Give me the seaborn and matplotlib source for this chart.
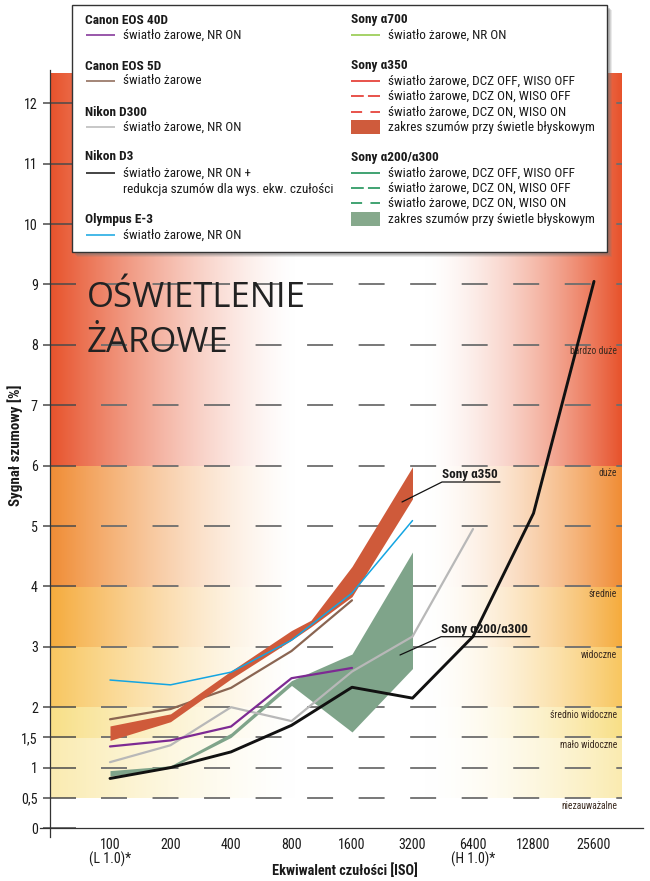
import numpy as np
import matplotlib
matplotlib.use("Agg")
import matplotlib.pyplot as plt
import seaborn as sns
from matplotlib import font_manager as fm
from matplotlib.patches import Rectangle
from matplotlib.ticker import NullLocator

# ---------------- data ----------------
iso_ticks = [100, 200, 400, 800, 1600, 3200, 6400, 12800, 25600]
iso_tick_labels = ["100\n(L 1.0)*", "200", "400", "800", "1600", "3200",
                   "6400\n(H 1.0)*", "12800", "25600"]
y_ticks = [0, 0.5, 1, 1.5, 2, 3, 4, 5, 6, 7, 8, 9, 10, 11, 12]
y_tick_labels = ["0", "0,5", "1", "1,5", "2", "3", "4", "5", "6", "7", "8",
                 "9", "10", "11", "12"]

iso_d3 = [100, 200, 400, 800, 1600, 3200, 6400, 12800, 25600]
nikon_d3 = [0.82, 1.00, 1.26, 1.70, 2.33, 2.15, 3.17, 5.21, 9.05]
iso_40d = [100, 200, 400, 800, 1600]
canon_40d = [1.35, 1.45, 1.68, 2.48, 2.65]
iso_5d = [100, 200, 400, 800, 1600]
canon_5d = [1.80, 1.97, 2.32, 2.93, 3.77]
iso_d300 = [100, 200, 400, 800, 1600, 3200, 6400]
nikon_d300 = [1.09, 1.37, 2.00, 1.77, 2.59, 3.17, 4.95]
iso_e3 = [100, 200, 400, 800, 1600, 3200]
olympus_e3 = [2.45, 2.37, 2.58, 3.11, 3.89, 5.09]
iso_a350 = [100, 200, 400, 800, 1000, 1600, 3200]
a350_hi = [1.69, 1.89, 2.60, 3.27, 3.44, 4.33, 5.98]
a350_lo = [1.45, 1.76, 2.47, 3.11, 3.33, 3.83, 5.45]
iso_a200 = [100, 200, 400, 800, 1600, 3200]
a200_hi = [0.95, 1.03, 1.57, 2.44, 2.88, 4.57]
a200_lo = [0.86, 0.99, 1.50, 2.36, 1.59, 2.64]

band_edges = [0.5, 1.5, 2, 3, 4, 6, 12.5]
band_colors = ["#faebb0", "#f8df86", "#f8c65f", "#f5ab3c", "#f08c34", "#e7522b"]
band_names = ["niezauważalne", "mało widoczne", "średnio widoczne", "widoczne",
              "średnie", "duże", "bardzo duże"]
band_label_y = [0.37, 1.37, 1.87, 2.87, 3.87, 5.87, 7.9]

# ---------------- fonts ----------------
sns.set_style("white")


def pick_condensed():
    pref = ["Liberation Sans Narrow", "Roboto Condensed", "Noto Sans",
            "Open Sans", "Liberation Sans", "DejaVu Sans"]
    found = set()
    for f in fm.fontManager.ttflist:
        st = f.stretch
        isc = ("condensed" in st) if isinstance(st, str) else (st < 500)
        if isc or "Narrow" in f.name or "Condensed" in f.name:
            found.add(f.name)
    for p in pref:
        if p in found:
            return p, "condensed"
    return "Roboto", "normal"


COND, STRETCH = pick_condensed()
names = {f.name for f in fm.fontManager.ttflist}
TITLE = "Open Sans" if "Open Sans" in names else "DejaVu Sans"
plt.rcParams["font.family"] = [COND, "DejaVu Sans"]
plt.rcParams["font.stretch"] = STRETCH
plt.rcParams["lines.scale_dashes"] = False
TXT = "#1a1a1a"

# ---------------- geometry helpers (pixel -> data) ----------------
W, H = 650, 881


def iso_at(px):
    return 100 * 2 ** ((px - 110) / 60.5)


def val_at(py):
    return (828 - py) / 60.4


def fx(px):
    return px / W


def fy(py):
    return 1 - py / H


fig = plt.figure(figsize=(6.5, 8.81), dpi=100)
renderer = fig.canvas.get_renderer()


def fit(s, target_px, base, weight="normal", cap=1.08):
    t = fig.text(0, 0, s, fontsize=base, fontweight=weight)
    w = t.get_window_extent(renderer).width
    t.remove()
    return min(base * cap, base * target_px / w)


FS_LEG = fit("zakres szumów przy świetle błyskowym", 206, 10)
FS_LEGB = fit("Canon EOS 40D", 83, 10, "bold")
FS_TICK = fit("12800", 34, 10, cap=1.2)
FS_BAND = fit("średnio widoczne", 66, 8)
FS_CALL = fit("Sony α200/α300", 87, 10.5, "bold")
FS_XLAB = fit("Ekwiwalent czułości [ISO]", 147, 10.5, "bold")
FS_YLAB = fit("Sygnał szumowy [%]", 122, 10.5, "bold")

rect = [fx(40), fy(838), (643 - 40) / W, (838 - 62) / H]

# background gradient bands
bg = fig.add_axes(rect, zorder=0)
bg.set_xlim(40, 643)
bg.set_ylim(val_at(838), val_at(62))
bg.axis("off")
xs = np.arange(50, 622) + 0.5
aL = np.clip(1 - (xs - 50) / 245.0, 0, 1) ** 1.4
aR = np.clip((xs - 425) / 197.0, 0, 1) ** 1.6
alpha = np.maximum(aL, aR)
vs = np.linspace(0.5, 12.5, 1201)[:-1] + 0.005
img = np.ones((len(vs), len(xs), 3))
for i, v in enumerate(vs):
    b = min(np.searchsorted(band_edges, v) - 1, len(band_colors) - 1)
    c = np.array(matplotlib.colors.to_rgb(band_colors[b]))
    img[i] = 1 - alpha[:, None] * (1 - c[None, :])
bg.imshow(img, extent=[50, 622, 0.5, 12.5], origin="lower", aspect="auto",
          interpolation="nearest")

# main axes
ax = fig.add_axes(rect, zorder=1)
ax.patch.set_alpha(0)
ax.set_xscale("log", base=2)
ax.set_xlim(iso_at(40), iso_at(643))
ax.set_ylim(val_at(838), val_at(62))
ax.grid(False)

# grid: solid tick segments + dashed lines
ax.hlines(y_ticks, iso_at(43), iso_at(76), color="#4a4a4a", lw=1.1, zorder=1.5)
ax.hlines(y_ticks[1:], iso_at(100.7), iso_at(622), color="#6d6d6d", lw=1.3,
          linestyles=[(0, (18.7, 18.4))], zorder=1.5)

# bands
ax.fill_between(iso_a200, a200_lo, a200_hi, color="#7fa48a", lw=0, zorder=2)
sns.lineplot(x=iso_5d, y=canon_5d, ax=ax, color="#8a6552", linewidth=1.6, zorder=2.5)
ax.fill_between(iso_a350, a350_lo, a350_hi, color="#cf5a3a", lw=0, zorder=3)

# lines
sns.lineplot(x=iso_d300, y=nikon_d300, ax=ax, color="#b8b8b8", linewidth=1.6, zorder=4)
sns.lineplot(x=iso_40d, y=canon_40d, ax=ax, color="#7d2a93", linewidth=1.6, zorder=4)
sns.lineplot(x=iso_e3, y=olympus_e3, ax=ax, color="#14a5e2", linewidth=1.1, zorder=4)
sns.lineplot(x=iso_d3, y=nikon_d3, ax=ax, color="#111111", linewidth=2.1, zorder=4.5)

# spines / axes
for s in ["top", "right"]:
    ax.spines[s].set_visible(False)
ax.spines["left"].set_position(("data", iso_at(50)))
ax.spines["left"].set_bounds(val_at(837), val_at(70))
ax.spines["bottom"].set_position(("data", 0))
for s in ["left", "bottom"]:
    ax.spines[s].set_color("#333333")
    ax.spines[s].set_linewidth(0.9)
    ax.spines[s].set_zorder(5)

ax.set_xticks(iso_ticks, iso_tick_labels)
ax.xaxis.set_minor_locator(NullLocator())
ax.set_yticks(y_ticks, y_tick_labels)
ax.tick_params(axis="y", length=0, pad=8.8, labelsize=FS_TICK, labelcolor=TXT)
ax.tick_params(axis="x", direction="out", length=4.3, width=0.8, color="#333333",
               pad=3.0, labelsize=FS_TICK, labelcolor=TXT)
for t in ax.get_xticklabels():
    t.set_linespacing(1.0)

# arrow heads
arr = dict(arrowstyle="-|>,head_length=1.0,head_width=0.3", fc="#111", ec="#111",
           lw=0.8, shrinkA=0, shrinkB=0)
ax.annotate("", xy=(iso_at(50), val_at(61)), xytext=(iso_at(50), val_at(90)),
            arrowprops=arr, zorder=6)
ax.annotate("", xy=(iso_at(644), 0), xytext=(iso_at(615), 0), arrowprops=arr, zorder=6)

# band labels on the right
for name, yv in zip(band_names, band_label_y):
    ax.text(iso_at(617), yv, name, ha="right", va="center", fontsize=FS_BAND,
            color="#3b2b20", zorder=3)

# callouts
ax.plot([iso_at(402), iso_at(442), iso_at(500)], [val_at(502), val_at(482), val_at(482)],
        color="#111", lw=0.9, zorder=6)
ax.text(iso_at(442), val_at(478), "Sony α350", ha="left", va="baseline",
        fontsize=FS_CALL, fontweight="bold", color=TXT, zorder=6)
ax.plot([iso_at(400), iso_at(441), iso_at(530)], [val_at(655), val_at(636.7), val_at(636.7)],
        color="#111", lw=0.9, zorder=6)
ax.text(iso_at(441), val_at(632.5), "Sony α200/α300", ha="left", va="baseline",
        fontsize=FS_CALL, fontweight="bold", color=TXT, zorder=6)

# title
for txt, by in [("OŚWIETLENIE", 307), ("ŻAROWE", 352)]:
    fig.text(fx(87), fy(by), txt, fontfamily=TITLE, fontstretch="normal",
             fontsize=25, fontweight="normal", va="baseline", ha="left",
             color="#222222", zorder=3)

# axis labels
fig.text(fx(345), fy(871), "Ekwiwalent czułości [ISO]", ha="center", va="center",
         fontsize=FS_XLAB, fontweight="bold", color=TXT)
fig.text(fx(15), fy(445), "Sygnał szumowy [%]", ha="center", va="center",
         rotation=90, fontsize=FS_YLAB, fontweight="bold", color=TXT)

# ---------------- legend box ----------------
lg = fig.add_axes([fx(72), fy(252), 535 / W, 247 / H], zorder=10)
lg.set_xlim(72, 607)
lg.set_ylim(252, 5)
lg.axis("off")
for d, a in [(5, 0.15), (4, 0.2), (3, 0.3)]:
    lg.add_patch(Rectangle((72 + d, 5 + d), 535, 247, fc="#777777", ec="none",
                           alpha=a, clip_on=False, zorder=0))
lg.add_patch(Rectangle((72, 5), 535, 247, fc="white", ec="#333333", lw=1.0,
                       clip_on=False, zorder=1))


def head(x, y, s):
    lg.text(x, y, s, ha="left", va="center", fontsize=FS_LEGB, fontweight="bold",
            color=TXT, zorder=3)


def item(x, y, s, color=None, dash=None, patch=None):
    if patch is not None:
        lg.add_patch(Rectangle((x, y - 7), 29, 14, fc=patch, ec="none", zorder=2))
    elif color is not None:
        ls = "-" if dash is None else (0, dash)
        lg.plot([x, x + 29], [y, y], color=color, lw=1.1, ls=ls, zorder=2,
                solid_capstyle="butt", dash_capstyle="butt")
    lg.text(x + 37, y, s, ha="left", va="center", fontsize=FS_LEG, color=TXT, zorder=3)


L = 85
head(L, 21, "Canon EOS 40D")
item(L + 1, 35, "światło żarowe, NR ON", "#7d2a93")
head(L, 67, "Canon EOS 5D")
item(L + 1, 81, "światło żarowe", "#8a6552")
head(L, 112, "Nikon D300")
item(L + 1, 127, "światło żarowe, NR ON", "#b8b8b8")
head(L, 157, "Nikon D3")
item(L + 1, 173, "światło żarowe, NR ON +", "#111111")
lg.text(L + 38, 189, "redukcja szumów dla wys. ekw. czułości", ha="left",
        va="center", fontsize=FS_LEG, color=TXT, zorder=3)
head(L, 219, "Olympus E-3")
item(L + 1, 235, "światło żarowe, NR ON", "#14a5e2")

R = 351
head(R, 20, "Sony α700")
item(R, 35, "światło żarowe, NR ON", "#8dc63f")
head(R, 66, "Sony α350")
item(R, 81, "światło żarowe, DCZ OFF, WISO OFF", "#e2231a")
item(R, 96, "światło żarowe, DCZ ON, WISO OFF", "#e2231a", (9.2, 3.0))
item(R, 112, "światło żarowe, DCZ ON, WISO ON", "#e2231a", (8.0, 6.0))
item(R, 127, "zakres szumów przy świetle błyskowym", patch="#cf5b3c")
head(R, 157, "Sony α200/α300")
item(R, 173, "światło żarowe, DCZ OFF, WISO OFF", "#0d8a4c")
item(R, 188, "światło żarowe, DCZ ON, WISO OFF", "#0d8a4c", (9.2, 3.0))
item(R, 203, "światło żarowe, DCZ ON, WISO ON", "#0d8a4c", (8.0, 6.0))
item(R, 219, "zakres szumów przy świetle błyskowym", patch="#86a98c")

fig.savefig("out.png", dpi=100)
